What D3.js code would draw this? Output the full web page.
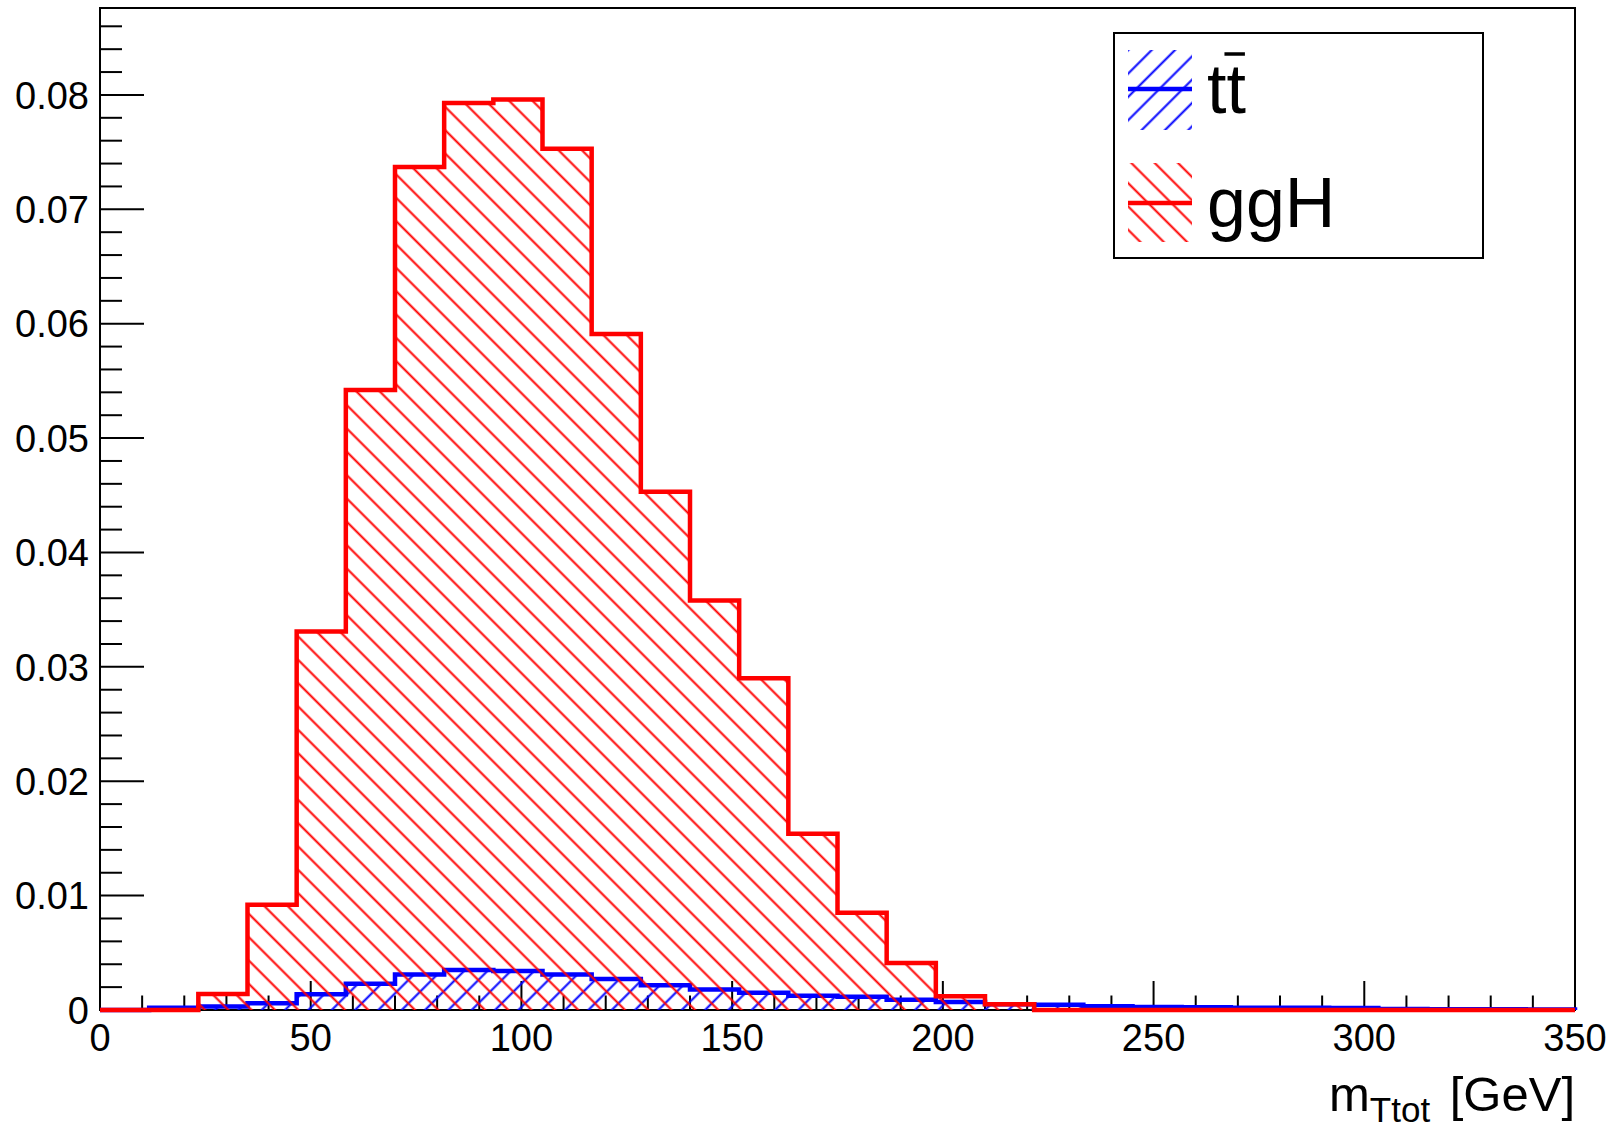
<!DOCTYPE html>
<html>
<head>
<meta charset="utf-8">
<script src="https://cdn.jsdelivr.net/npm/d3@7"></script>
<style>
  body { margin: 0; background: white; }
  text { font-family: "Liberation Sans", Arial, sans-serif; }
</style>
</head>
<body>
<svg id="svg"></svg>
<script>
// binning: 30 bins from 0 to 350 GeV
const nBins = 30;
const xMin = 0;
const xMax = 350;

// normalised bin contents
const ggHValues = [0, 0, 0.0014, 0.0092, 0.0331, 0.0542, 0.0737, 0.0793, 0.0796, 0.0753,
    0.0591, 0.0453, 0.0358, 0.0290, 0.0154, 0.0085, 0.0041, 0.0012, 0.0005, 0,
    0, 0, 0, 0, 0, 0, 0, 0, 0, 0];
const ttbarValues = [0, 0.0002, 0.0003, 0.0006, 0.00137, 0.0023, 0.0031, 0.0035, 0.0034, 0.0031,
    0.0027, 0.00216, 0.0018, 0.0015, 0.00125, 0.00116, 0.0009, 0.0007, 0.0005, 0.00046,
    0.00032, 0.00026, 0.00024, 0.0002, 0.0002, 0.00018, 0.00008, 0.00007, 0.00006, 0.00005];

const xMajorTicks = [0, 50, 100, 150, 200, 250, 300, 350];
const yMajorTicks = [0, 0.01, 0.02, 0.03, 0.04, 0.05, 0.06, 0.07, 0.08];
const yMax = 0.0876;

const legendLabels = ["tt", "ggH"];

const width = 1614;
const height = 1129;
const margin = { top: 8, right: 39, bottom: 119, left: 100 };

let svg = d3.select("#svg").attr("width", width).attr("height", height);

svg.append("rect").attr("width", width).attr("height", height).attr("fill", "white");

const xScale = d3.scaleLinear().domain([xMin, xMax]).range([margin.left, width - margin.right]);
const yScale = d3.scaleLinear().domain([0, yMax]).range([height - margin.bottom, margin.top]);

const binWidth = (xMax - xMin) / nBins;

// hatch patterns, ROOT style 3004 / 3005
const defs = svg.append("defs");
function makeHatch(id, colour, angle) {
    const s = 16.5;
    defs.append("pattern")
        .attr("id", id)
        .attr("patternUnits", "userSpaceOnUse")
        .attr("width", s)
        .attr("height", s)
        .attr("patternTransform", `rotate(${angle})`)
        .append("line")
        .attr("x1", s / 2).attr("y1", -1)
        .attr("x2", s / 2).attr("y2", s + 1)
        .attr("stroke", colour)
        .attr("stroke-width", 2);
}
makeHatch("hatchBlue", "#0000ff", 45);
makeHatch("hatchRed", "#ff0000", -45);

// frame
const x0 = xScale(xMin), x1 = xScale(xMax), y0 = yScale(0), y1 = yScale(yMax);
svg.append("rect")
    .attr("x", x0).attr("y", y1)
    .attr("width", x1 - x0).attr("height", y0 - y1)
    .attr("fill", "none").attr("stroke", "black").attr("stroke-width", 2);

// y axis ticks (inside)
const yMinor = d3.range(0, 44).map(i => i * 0.002).filter(v => v <= yMax);
svg.append("g").selectAll("line")
    .data(yMinor)
    .join("line")
    .attr("x1", x0)
    .attr("x2", (d, i) => x0 + (i % 5 === 0 ? 44 : 22))
    .attr("y1", d => yScale(d))
    .attr("y2", d => yScale(d))
    .attr("stroke", "black").attr("stroke-width", 2);

svg.append("g").selectAll("text")
    .data(yMajorTicks)
    .join("text")
    .attr("x", x0 - 11)
    .attr("y", d => yScale(d))
    .attr("dy", "0.36em")
    .attr("text-anchor", "end")
    .style("font-size", "38px")
    .text(d => d === 0 ? "0" : d3.format(".2f")(d));

// x axis ticks (inside)
const xMinor = d3.range(0, 36).map(i => i * 10);
svg.append("g").selectAll("line")
    .data(xMinor)
    .join("line")
    .attr("x1", d => xScale(d))
    .attr("x2", d => xScale(d))
    .attr("y1", y0)
    .attr("y2", d => y0 - (d % 50 === 0 ? 29 : 14.5))
    .attr("stroke", "black").attr("stroke-width", 2);

svg.append("g").selectAll("text")
    .data(xMajorTicks)
    .join("text")
    .attr("x", d => xScale(d))
    .attr("y", 1051)
    .attr("text-anchor", "middle")
    .style("font-size", "38px")
    .text(d => d);

// axis title
const title = svg.append("text")
    .attr("x", x1)
    .attr("y", 1111)
    .attr("text-anchor", "end")
    .style("font-size", "49px");
title.append("tspan").text("m");
title.append("tspan").attr("dy", 11).style("font-size", "35px").text("Ttot");
title.append("tspan").attr("dy", -11).attr("dx", 6).text(" [GeV]");

// histograms
function stepPoints(values) {
    const pts = [[xMin, 0]];
    values.forEach((v, i) => pts.push([xMin + i * binWidth, v]));
    pts.push([xMax, values[values.length - 1]]);
    pts.push([xMax, 0]);
    return pts;
}

const area = d3.area()
    .x(d => xScale(d[0]))
    .y0(y0)
    .y1(d => yScale(d[1]))
    .curve(d3.curveStepAfter);

const line = d3.line()
    .x(d => xScale(d[0]))
    .y(d => yScale(d[1]))
    .curve(d3.curveStepAfter);

function drawHist(values, colour, pattern) {
    const pts = stepPoints(values);
    svg.append("path").attr("d", area(pts)).attr("fill", `url(#${pattern})`);
    svg.append("path").attr("d", line(pts))
        .attr("fill", "none").attr("stroke", colour).attr("stroke-width", 4.5);
}

drawHist(ttbarValues, "#0000ff", "hatchBlue");
drawHist(ggHValues, "#ff0000", "hatchRed");

// legend
const legend = svg.append("g");
legend.append("rect")
    .attr("x", 1114).attr("y", 33)
    .attr("width", 369).attr("height", 225)
    .attr("fill", "white").attr("stroke", "black").attr("stroke-width", 2);

const legendEntries = [
    { label: legendLabels[0], colour: "#0000ff", pattern: "hatchBlue", top: 50, bottom: 130, lineY: 89, textY: 113 },
    { label: legendLabels[1], colour: "#ff0000", pattern: "hatchRed", top: 163, bottom: 242, lineY: 203, textY: 227 }
];

legendEntries.forEach((e, i) => {
    legend.append("rect")
        .attr("x", 1128).attr("y", e.top)
        .attr("width", 64).attr("height", e.bottom - e.top)
        .attr("fill", `url(#${e.pattern})`);
    legend.append("line")
        .attr("x1", 1128).attr("x2", 1192)
        .attr("y1", e.lineY).attr("y2", e.lineY)
        .attr("stroke", e.colour).attr("stroke-width", 4.5);
    const t = legend.append("text")
        .attr("x", 1207).attr("y", e.textY)
        .style("font-size", "70px")
        .text(e.label);
    if (i === 0) {
        // bar over the second t (anti-top)
        const a = t.node().getSubStringLength(0, 1);
        const b = t.node().getSubStringLength(0, 2);
        legend.append("line")
            .attr("x1", 1207 + a - 2).attr("x2", 1207 + b - 1)
            .attr("y1", 54).attr("y2", 54)
            .attr("stroke", "black").attr("stroke-width", 3.5);
    }
});
</script>
</body>
</html>
